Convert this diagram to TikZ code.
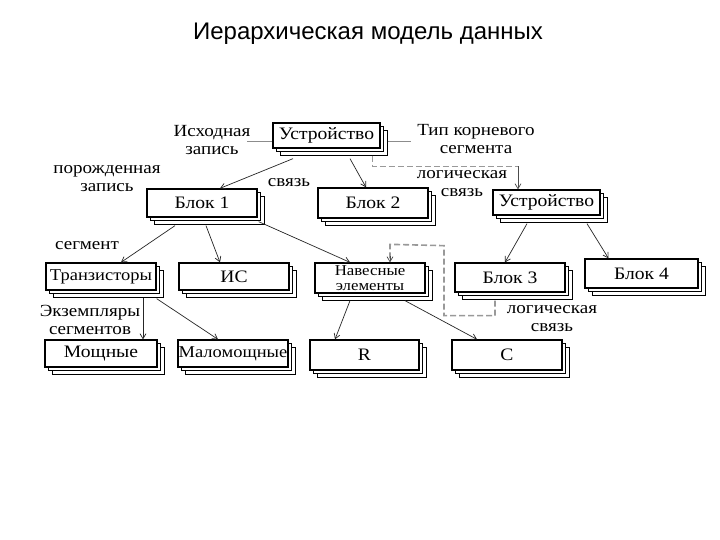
\documentclass[tikz,border=0pt]{standalone}
\usepackage{fontspec}
\setmainfont{Liberation Serif}[FakeStretch=1.12]
\newfontfamily\titlefont{Liberation Sans}
\usetikzlibrary{arrows.meta,calc,shadows}
\begin{document}
\begin{tikzpicture}[x=1pt,y=-1pt,
  seg/.style={draw=black, line width=1.3pt, fill=white, inner sep=0pt,
    font=\fontsize{17.5}{17.5}\selectfont,
    double copy shadow={shadow xshift=3.5pt, shadow yshift=-3.5pt, draw=black, fill=white, line width=0.8pt}},
  lab/.style={align=center, inner sep=0pt, font=\fontsize{17}{18}\selectfont},
  arr/.style={draw=black!85, line width=0.7pt, -{Straight Barb[length=5pt,width=6pt]}},
  glink/.style={draw=black!40, line width=1.6pt, dash pattern=on 6pt off 3pt},
  gline/.style={draw=black!45, line width=1.4pt},
  gtip/.style={draw=black!70, line width=0.7pt, -{Straight Barb[length=5pt,width=6pt]}}
]
\useasboundingbox (0,0) rectangle (720,540);
\fill[white] (0,0) rectangle (720,540);

\node[font=\titlefont\fontsize{24}{24}\selectfont, anchor=base] (title) at (368,40) {Иерархическая модель данных};

% boxes
\node[seg, minimum width=107pt, minimum height=25pt] (u0) at (326.5,135.5) {Устройство};
\node[seg, minimum width=110pt, minimum height=28pt] (b1) at (202,203) {Блок 1};
\node[seg, minimum width=110pt, minimum height=30pt] (b2) at (373,203) {Блок 2};
\node[seg, minimum width=107pt, minimum height=25pt] (u1) at (546.5,202.5) {Устройство};
\node[seg, minimum width=110pt, minimum height=27pt, font=\fontsize{16.5}{16.5}\selectfont] (t) at (101,276.5) {Транзисторы};
\node[seg, minimum width=110pt, minimum height=27pt] (ic) at (234,276.5) {ИС};
\node[seg, minimum width=110pt, minimum height=30pt, align=center, font=\fontsize{15}{14.5}\selectfont] (ne) at (370,278) {Навесные\\элементы};
\node[seg, minimum width=110pt, minimum height=29pt] (b3) at (510,277.5) {Блок 3};
\node[seg, minimum width=113pt, minimum height=29pt] (b4) at (641.5,273.5) {Блок 4};
\node[seg, minimum width=112pt, minimum height=27pt] (m) at (101,353.5) {Мощные};
\node[seg, minimum width=110pt, minimum height=27pt, font=\fontsize{16.5}{16.5}\selectfont] (mm) at (233,353.5) {Маломощные};
\node[seg, minimum width=109pt, minimum height=30pt] (r) at (364.5,355) {R};
\node[seg, minimum width=110pt, minimum height=30pt] (c) at (507,355) {C};

% labels
\node[lab] (l1) at (212,140) {Исходная\\запись};
\node[lab] (l2) at (476,139) {Тип корневого\\сегмента};
\node[lab] (l3) at (462,184) {логическая\\связь};
\node[lab] (l4) at (289,183) {связь};
\node[lab] (l5) at (107,179) {порожденная\\запись};
\node[lab] (l6) at (87,246) {сегмент};
\node[lab] (l7) at (90,320) {Экземпляры\\сегментов};
\node[lab] (l8) at (552,319) {логическая\\связь};

% gray label lines
\coordinate (g1) at ($(u0.west)+(-25,6)$);
\draw[gline] (g1) -- ($(u0.west)+(0,6)$);
\coordinate (g2) at ($(u0.east)+(30,6)$);
\draw[gline] ($(u0.east)+(7,6)$) -- (g2);

% arrows
\draw[arr] ($(u0.south)+(-33.5,10)$) -- ($(b1.north)+(18,0)$);
\draw[arr] ($(u0.south)+(23.5,10)$) -- ($(b2.north)+(-7,0)$);
\draw[arr] ($(b1.south)+(-27,8)$) -- ($(t.north)+(20,0)$);
\draw[arr] ($(b1.south)+(4,8)$) -- ($(ic.north)+(-14,0)$);
\draw[arr] ($(b1.south east)+(1,4)$) -- ($(ne.north)+(-20,0)$);
\draw[arr] ($(u1.south)+(-19.5,8)$) -- ($(b3.north)+(-5,0)$);
\draw[arr] ($(u1.south)+(40.5,8)$) -- ($(b4.north)+(-33,0)$);
\draw[arr] ($(t.south)+(42,7)$) -- ($(m.north)+(42,0)$);
\draw[arr] ($(t.south east)+(0,8)$) -- ($(mm.north)+(-15,0)$);
\draw[arr] ($(ne.south)+(-20,7)$) -- ($(r.north)+(-29.5,0)$);
\draw[arr] ($(ne.south)+(35,7)$) -- ($(c.north)+(-30,0)$);

% logical links (gray dashed)
\draw[glink] ($(u0.south east)+(-8,7)$) |- ($(u1.north)+(-28.5,-23)$);
\draw[gtip] ($(u1.north)+(-28.5,-23)$) -- ($(u1.north)+(-28.5,0)$);
\draw[glink] ($(b3.south)+(-15,8)$) -- ++(0,15) -- ++(-51,0) -- ++(0,-70) -- ($(ne.north)+(20,-18)$) -- ($(ne.north)+(20,-3)$);
\draw[gtip] ($(ne.north)+(20,-6)$) -- ($(ne.north)+(20,0)$);
\end{tikzpicture}
\end{document}
